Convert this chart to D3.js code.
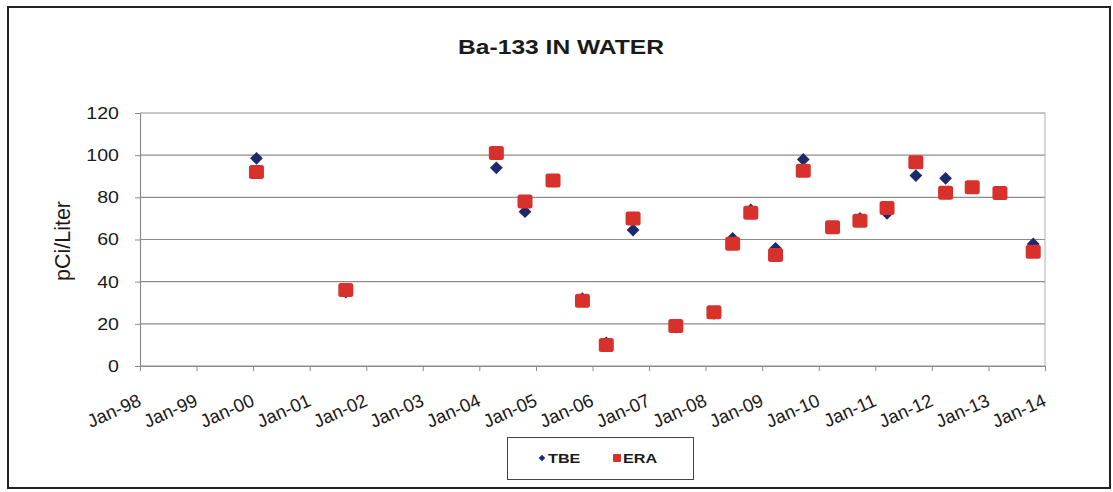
<!DOCTYPE html>
<html>
<head>
<meta charset="utf-8">
<script src="https://cdn.jsdelivr.net/npm/d3@7"></script>
<style>
  body { margin: 0; background: #fff; }
  svg { display: block; font-family: "Liberation Sans", Arial, sans-serif; }
</style>
</head>
<body>
<div id="chart"></div>
<script>
// Datos
const sampleDates = ['2000-01-23', '2001-08-22', '2004-04-20', '2004-10-22', '2005-04-21', '2005-10-28',
    '2006-03-31', '2006-09-20', '2007-06-23', '2008-02-24', '2008-06-24', '2008-10-19',
    '2009-03-28', '2009-09-23', '2010-03-31', '2010-09-24', '2011-03-18', '2011-09-20',
    '2012-03-30', '2012-09-18', '2013-03-16', '2013-10-17'];
const tbeValues = [98.5, 35, 94, 73.2, 88, 32, 11, 64.5, 18.5, 25, 60.5, 74,
    55.8, 98, 66, 70, 72.4, 90.3, 89, 85, 82, 57.9];
const eraValues = [92, 36, 101, 78, 88, 31, 10, 70, 19, 25.5, 58, 72.7,
    52.7, 92.6, 65.8, 68.9, 75, 96.6, 82.2, 84.8, 82, 54.2];
const yTicks = [0, 20, 40, 60, 80, 100, 120];
const xTickYears = d3.range(1998, 2015);
const seriesNames = ['TBE', 'ERA'];

const COLOR_TBE = '#1c2a6c',
    COLOR_ERA = '#d8302a',
    COLOR_GRID = '#8c8c8c';

const W = 1113, H = 492;
const margin = {top: 113, right: 68, bottom: 126, left: 140},
    width = W - margin.left - margin.right,
    height = H - margin.top - margin.bottom;

const parse = d3.timeParse('%Y-%m-%d');
const dataTBE = sampleDates.map((d, i) => ({date: parse(d), value: tbeValues[i]}));
const dataERA = sampleDates.map((d, i) => ({date: parse(d), value: eraValues[i]}));

const svgRoot = d3.select('#chart').append('svg')
    .attr('width', W).attr('height', H);

// Marco exterior
svgRoot.append('rect')
    .attr('x', 8).attr('y', 7).attr('width', 1102).attr('height', 481)
    .attr('fill', '#fff').attr('stroke', '#222').attr('stroke-width', 2);

// El original esta estirado en horizontal, por eso scale(1.2,1)
function placeText(sel, x, y) {
    return sel.attr('transform', 'translate(' + x + ',' + y + ') scale(1.2,1)');
}

placeText(svgRoot.append('text'), 561, 54)
    .attr('text-anchor', 'middle')
    .attr('font-size', 20.5).attr('font-weight', 'bold').attr('fill', '#1a1a1a')
    .text('Ba-133 IN WATER');

svgRoot.append('text')
    .attr('transform', 'translate(70,241) rotate(-90)')
    .attr('text-anchor', 'middle')
    .attr('font-size', 21.5).attr('fill', '#1a1a1a')
    .text('pCi/Liter');

const svg = svgRoot.append('g')
    .attr('transform', 'translate(' + margin.left + ',' + margin.top + ')');

const x = d3.scaleTime()
    .domain([new Date(1998, 0, 1), new Date(2014, 0, 1)])
    .range([0, width]);

const y = d3.scaleLinear()
    .domain([0, 120])
    .range([height, 0]);

// Rejilla
svg.append('g')
    .selectAll('line')
    .data(yTicks)
    .enter()
    .append('line')
    .attr('x1', 0).attr('x2', width)
    .attr('y1', d => y(d)).attr('y2', d => y(d))
    .attr('stroke', COLOR_GRID).attr('stroke-width', 1.2);

svg.append('line')
    .attr('x1', width).attr('x2', width).attr('y1', 0).attr('y2', height)
    .attr('stroke', '#b0b0b0');

// Eje Y
const yAxis = svg.append('g')
    .call(d3.axisLeft(y).tickValues(yTicks).tickSize(5).tickSizeOuter(0));
yAxis.select('.domain').attr('stroke', COLOR_GRID).attr('stroke-width', 1.2);
yAxis.selectAll('line').attr('stroke', COLOR_GRID);
yAxis.selectAll('text').each(function() {
    const t = d3.select(this);
    const ty = +t.attr('y') || 0;
    t.attr('x', null).attr('dy', null)
        .attr('font-size', 16.3).attr('fill', '#1a1a1a')
        .attr('font-family', '"Liberation Sans", Arial, sans-serif')
        .attr('dominant-baseline', 'central')
        .attr('transform', 'translate(-21,' + ty + ') scale(1.2,1)');
});

// Eje X
const xAxis = svg.append('g')
    .attr('transform', 'translate(0,' + height + ')')
    .call(d3.axisBottom(x)
        .tickValues(xTickYears.map(yr => new Date(yr, 0, 1)))
        .tickFormat(d3.timeFormat('Jan-%y'))
        .tickSize(5).tickSizeOuter(0));
xAxis.select('.domain').attr('stroke', COLOR_GRID).attr('stroke-width', 1.2);
xAxis.selectAll('line').attr('stroke', COLOR_GRID);
xAxis.selectAll('text')
    .attr('y', null).attr('dy', null)
    .attr('text-anchor', 'end')
    .attr('font-size', 18.5).attr('fill', '#1a1a1a')
    .attr('font-family', '"Liberation Sans", Arial, sans-serif')
    .attr('transform', 'translate(2,39) rotate(-24)');

// Series
const diamond = d3.symbol().type(d3.symbolSquare).size(82);

svg.append('g')
    .selectAll('path')
    .data(dataTBE)
    .enter()
    .append('path')
    .attr('d', diamond)
    .attr('transform', d => 'translate(' + x(d.date) + ',' + y(d.value) + ') rotate(45)')
    .attr('fill', COLOR_TBE);

svg.append('g')
    .selectAll('rect')
    .data(dataERA)
    .enter()
    .append('rect')
    .attr('x', d => x(d.date) - 7.5)
    .attr('y', d => y(d.value) - 7)
    .attr('width', 15).attr('height', 14)
    .attr('rx', 2.5)
    .attr('fill', COLOR_ERA);

// Leyenda
const legend = svgRoot.append('g');
legend.append('rect')
    .attr('x', 507.5).attr('y', 437.5).attr('width', 186).attr('height', 42)
    .attr('fill', '#fff').attr('stroke', '#444').attr('stroke-width', 1);

const legendX = [542, 617];
const legendColors = [COLOR_TBE, COLOR_ERA];
seriesNames.forEach((name, i) => {
    if (i === 0) {
        legend.append('path')
            .attr('d', d3.symbol().type(d3.symbolSquare).size(22))
            .attr('transform', 'translate(' + legendX[i] + ',458) rotate(45)')
            .attr('fill', legendColors[i]);
    } else {
        legend.append('rect')
            .attr('x', legendX[i] - 4).attr('y', 454)
            .attr('width', 8).attr('height', 8).attr('rx', 1)
            .attr('fill', legendColors[i]);
    }
    placeText(legend.append('text'), legendX[i] + 6, 463)
        .attr('font-size', 13.5).attr('font-weight', 'bold').attr('fill', '#1a1a1a')
        .text(name);
});
</script>
</body>
</html>
